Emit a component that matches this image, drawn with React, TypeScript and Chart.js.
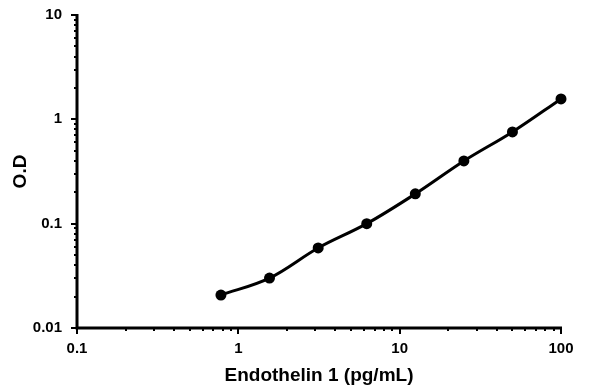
import React, { useEffect, useRef } from "react";
import { Chart, registerables } from "chart.js";

Chart.register(...registerables);

const concentrations = [0.78, 1.56, 3.125, 6.25, 12.5, 25, 50, 100];
const odValues = [0.0207, 0.0301, 0.0585, 0.1, 0.193, 0.399, 0.757, 1.57];
const xMajorTicks = [0.1, 1, 10, 100];
const yMajorTicks = [0.01, 0.1, 1, 10];
const xTitle = "Endothelin 1 (pg/mL)";
const yTitle = "O.D";

const FONT = "'Liberation Sans', Arial, sans-serif";

function allTicks(majors: number[]) {
  const out: { value: number; major: boolean }[] = [];
  for (let i = 0; i < majors.length; i++) {
    out.push({ value: majors[i], major: true });
    if (i < majors.length - 1) {
      for (let k = 2; k <= 9; k++) out.push({ value: majors[i] * k, major: false });
    }
  }
  return out;
}

const isMajor = (v: number, majors: number[]) =>
  majors.some((m) => Math.abs(m - v) / m < 1e-6);

const axisPlugin = {
  id: "customAxes",
  beforeDatasetsDraw(chart: any) {
    const { ctx, chartArea, scales } = chart;
    const { left, right, top, bottom } = chartArea;
    ctx.save();
    ctx.strokeStyle = "#000";
    ctx.lineWidth = 2;
    for (const t of allTicks(yMajorTicks)) {
      const py = Math.round(scales.y.getPixelForValue(t.value));
      const len = t.major ? 5 : 2;
      ctx.beginPath();
      ctx.moveTo(left - 1, py);
      ctx.lineTo(left - 1 - len, py);
      ctx.stroke();
    }
    for (const t of allTicks(xMajorTicks)) {
      const px = Math.round(scales.x.getPixelForValue(t.value));
      const len = t.major ? 5 : 2;
      ctx.beginPath();
      ctx.moveTo(px, bottom + 1);
      ctx.lineTo(px, bottom + 1 + len);
      ctx.stroke();
    }
    ctx.lineWidth = 3;
    ctx.beginPath();
    ctx.moveTo(left, top - 1);
    ctx.lineTo(left, bottom + 1.5);
    ctx.moveTo(left - 1.5, bottom);
    ctx.lineTo(right + 1, bottom);
    ctx.stroke();
    ctx.restore();
  },
};

export default function App() {
  const ref = useRef<HTMLCanvasElement>(null);
  useEffect(() => {
    if (!ref.current) return;
    const chart = new Chart(ref.current, {
      type: "line",
      data: {
        datasets: [
          {
            data: concentrations.map((x, i) => ({ x, y: odValues[i] })),
            borderColor: "#000",
            backgroundColor: "#000",
            borderWidth: 3,
            pointRadius: 5.5,
            pointHoverRadius: 5.5,
            pointBackgroundColor: "#000",
            pointBorderWidth: 0,
            tension: 0.35,
            fill: false,
            clip: false,
          },
        ],
      },
      options: {
        animation: false,
        responsive: false,
        devicePixelRatio: 1,
        layout: { padding: { top: 15, right: 35, left: 0, bottom: 0 } },
        plugins: { legend: { display: false }, tooltip: { enabled: false } },
        scales: {
          x: {
            type: "logarithmic",
            min: 0.1,
            max: 100,
            afterBuildTicks: (s: any) => {
              s.ticks = allTicks(xMajorTicks).map((t) => ({ value: t.value, major: t.major }));
            },
            afterFit: (s: any) => {
              s.height = 64;
              s.paddingLeft = 0;
              s.paddingRight = 0;
            },
            grid: { display: false, drawTicks: false },
            border: { display: false },
            ticks: {
              autoSkip: false,
              maxRotation: 0,
              padding: 12,
              color: "#000",
              font: { family: FONT, size: 15, weight: "bold" },
              callback: (v: any) => (isMajor(Number(v), xMajorTicks) ? String(Number(v)) : ""),
            },
            title: {
              display: true,
              text: xTitle,
              color: "#000",
              font: { family: FONT, size: 19, weight: "bold" },
              padding: { top: 0, bottom: 5 },
            },
          },
          y: {
            type: "logarithmic",
            min: 0.01,
            max: 10,
            afterBuildTicks: (s: any) => {
              s.ticks = allTicks(yMajorTicks).map((t) => ({ value: t.value, major: t.major }));
            },
            afterFit: (s: any) => {
              s.width = 77;
              s.paddingTop = 0;
              s.paddingBottom = 0;
            },
            grid: { display: false, drawTicks: false },
            border: { display: false },
            ticks: {
              autoSkip: false,
              padding: 15,
              color: "#000",
              font: { family: FONT, size: 15, weight: "bold" },
              callback: (v: any) => (isMajor(Number(v), yMajorTicks) ? String(Number(v)) : ""),
            },
            title: {
              display: true,
              text: yTitle,
              color: "#000",
              font: { family: FONT, size: 19, weight: "bold" },
              padding: { top: 9, bottom: 0 },
            },
          },
        },
      } as any,
      plugins: [axisPlugin],
    });
    return () => chart.destroy();
  }, []);
  return (
    <div style={{ position: "absolute", left: 0, top: 0, width: 596, height: 392, background: "#fff" }}>
      <canvas ref={ref} width={596} height={392} style={{ display: "block", width: 596, height: 392 }} />
    </div>
  );
}
